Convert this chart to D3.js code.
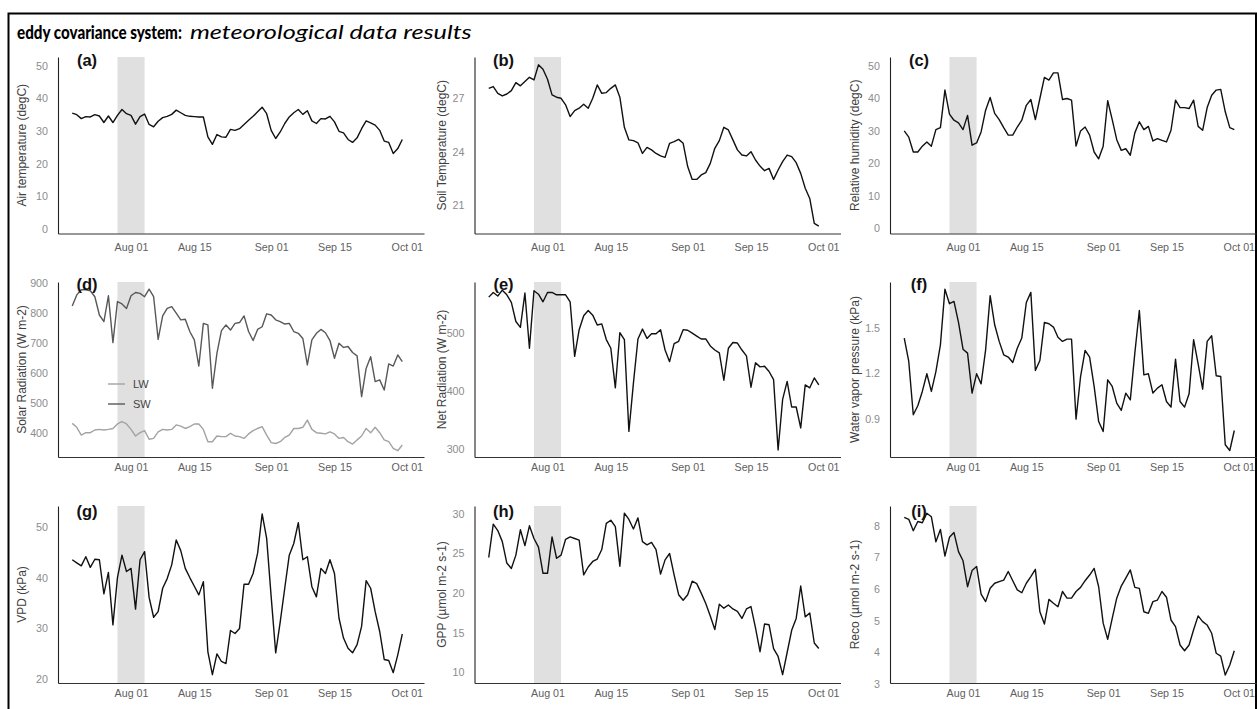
<!DOCTYPE html>
<html><head><meta charset="utf-8">
<script src="https://cdn.jsdelivr.net/npm/d3@7"></script>
<style>body{margin:0;background:#fff}svg{display:block}</style>
</head><body><svg id="c" width="1257" height="709"></svg>
<script>
// ---------- data ----------
const startDate = "2021-07-19T00:00:00Z";
const xDomain = ["2021-07-15T20:24:00Z", "2021-10-04T19:12:00Z"];
const xTickDates = ["2021-08-01T00:00:00Z","2021-08-15T00:00:00Z","2021-09-01T00:00:00Z","2021-09-15T00:00:00Z","2021-10-01T00:00:00Z"];
const xTickLabels = ["Aug 01","Aug 15","Sep 01","Sep 15","Oct 01"];
const shadeRange = ["2021-07-29T00:00:00Z","2021-08-04T00:00:00Z"];

const airTemp = [35.5,35,33.8,34.4,34.3,35,34.6,32.6,34.6,32.6,34.8,36.6,35.3,34.8,32.1,34.4,35.2,32,31.3,33,34.1,34.5,35.1,36.4,35.6,34.8,34.5,34.4,34.3,34.3,28.2,25.9,28.9,28.2,28.1,30.5,30.2,30.7,32,33.3,34.5,35.9,37.3,35.3,30.2,27.7,29.7,32.3,34.3,35.6,36.6,35.1,36.2,33.1,32.3,33.8,33.7,34.5,32.8,29.9,29.4,27.4,26.5,27.9,30.7,33.1,32.5,31.8,30.2,26.9,26.5,23.1,24.6,27.4];
const soilTemp = [27.56,27.66,27.28,27.13,27.24,27.43,27.88,27.7,27.94,28.18,28.03,28.88,28.63,28.07,27.19,27.06,27.0,26.63,25.97,26.31,26.44,26.66,26.44,27.0,27.75,27.28,27.32,27.56,27.75,27.06,25.37,24.66,24.62,24.5,23.9,24.24,24.1,23.9,23.76,23.68,24.47,24.56,24.69,24.47,23.16,22.44,22.44,22.69,22.82,23.34,24.19,24.62,25.37,25.22,24.66,24.1,23.81,23.76,24.0,23.53,23.19,22.93,23.06,22.44,22.97,23.44,23.81,23.72,23.38,22.78,21.94,21.37,19.97,19.82];
const relHumidity = [30,28.1,23.5,23.5,25.3,26.6,25.3,30.4,31,42.6,35.2,33.3,32.5,30.4,34.8,25.6,26.3,29.7,36.4,40.3,35.4,33.5,31,28.7,28.7,31.2,33.3,37.9,39.7,33.5,40,46.5,45.7,47.9,47.9,39.7,40,39.5,25.3,30,31.2,28.7,23.5,21.4,25.3,39.3,33.5,27.3,24,24.5,22.5,29.4,32.8,30.4,31.4,26.9,27.6,27.1,26.6,30.2,39.5,37.2,37.2,36.9,39.5,31.4,30.2,37.2,41,42.6,42.8,35.9,31,30.4];
const swRad = [822,859,876,876,873,853,792,770,856,700,837,829,814,856,867,864,853,878,853,711,789,814,820,798,776,778,737,709,622,764,759,548,664,740,759,742,764,767,789,737,707,744,753,796,792,776,770,762,764,737,731,714,626,709,731,744,733,707,648,698,684,687,667,656,520,614,653,570,576,542,629,622,659,637];
const lwRad = [431,418,392,400,400,409,411,409,411,414,429,437,429,411,389,400,407,378,381,403,411,409,411,426,422,414,420,429,429,411,370,370,389,387,387,398,389,387,381,396,407,414,420,392,367,364,370,384,392,414,414,418,442,411,400,398,396,403,396,381,384,370,362,376,389,414,400,418,400,376,370,348,340,359];
const netRad = [562,570,564,574,566,553,520,510,569,474,573,567,554,570,570,566,566,566,554,460,506,530,539,531,514,516,489,474,406,501,489,331,414,490,507,491,499,499,506,471,451,482,486,506,505,500,495,490,490,478,471,466,419,474,484,483,471,461,407,449,442,443,434,420,299,386,417,373,373,337,411,406,423,411];
const vaporPressure = [1.434,1.279,0.925,0.985,1.08,1.197,1.08,1.212,1.389,1.759,1.662,1.677,1.538,1.36,1.334,1.069,1.197,1.13,1.356,1.715,1.522,1.412,1.323,1.308,1.272,1.367,1.434,1.67,1.737,1.219,1.285,1.538,1.529,1.507,1.44,1.412,1.427,1.427,0.896,1.179,1.352,1.308,1.113,0.88,0.814,1.157,1.113,1.002,0.954,1.069,1.024,1.334,1.617,1.19,1.197,1.069,1.102,1.124,1.013,0.976,1.294,1.013,0.976,1.064,1.423,1.263,1.095,1.412,1.449,1.184,1.179,0.726,0.688,0.821];
const vpd = [43.5,42.9,42.3,44.1,42,43.6,43.5,36.8,41,30.7,40,44.4,41.2,41.8,33.8,43.5,45.1,36.1,32.2,33.3,37.9,39.8,42.5,47.4,45.3,41.8,40,38.3,36.6,39.2,25.4,20.9,25,23.5,23.1,29.6,29,30,38.7,38.7,40.8,44.8,52.5,47.7,36.2,25.2,31.3,37.9,44.4,46.7,50.8,43.5,44.1,38.2,36.2,41.8,40.8,43.5,40.8,32,28.1,26.1,25.2,26.8,30.4,39.4,37.9,33.3,29.4,23.9,23.7,21.3,24.8,28.9];
const gpp = [24.5,28.7,27.9,26.5,23.8,23.1,24.8,28,26,28.5,26.9,25.8,22.5,22.5,27.1,24.4,24.8,26.8,27.1,26.9,26.7,22.3,23.3,24,24.3,25.5,28.8,29.2,28.4,23.4,30.1,29.3,28.1,29.5,26.5,26.1,26.4,25.5,22.4,24.2,25,22.3,19.8,19.1,19.8,21.5,21.2,20,18.7,17.1,15.4,18.6,18.1,18.5,18,17.7,16.8,18,18.3,15.6,12.6,16.1,16,13,12,9.7,12.5,15.3,16.8,20.9,17,17.5,13.7,13];
const reco = [8.26,8.2,7.84,8.13,8.09,8.39,8.28,7.49,7.88,7.04,7.63,7.78,7.18,6.89,6.07,6.58,6.71,5.84,5.6,6.02,6.18,6.23,6.28,6.55,6.26,5.97,5.88,6.18,6.39,6.62,5.28,4.89,5.67,5.55,5.44,5.92,5.71,5.71,5.92,6.05,6.26,6.44,6.65,6.07,4.92,4.41,5.07,5.71,6.09,6.34,6.6,6.05,6.02,5.28,5.23,5.6,5.65,5.92,5.74,5.02,4.81,4.23,4.05,4.23,4.71,5.15,4.97,4.86,4.6,3.97,3.88,3.28,3.6,4.05];

const titleBold = "eddy covariance system:";
const titleItalic = "meteorological data results";
const panelLetters = ["(a)","(b)","(c)","(d)","(e)","(f)","(g)","(h)","(i)"];
const panelTitles = ["Air temperature (degC)","Soil Temperature (degC)","Relative humidity (degC)","Solar Radiation (W m-2)","Net Radiation (W m-2)","Water vapor pressure (kPa)","VPD (kPa)","GPP (\u00b5mol m-2 s-1)","Reco (\u00b5mol m-2 s-1)"];
const yDomains = [[-1.45,52.7],[19.4,29.32],[-1.64,52.8],[319,902],[287,588],[0.645,1.806],[19.27,54.07],[8.65,31.0],[3.03,8.62]];
const yTicks = [[0,10,20,30,40,50],[21,24,27],[0,10,20,30,40,50],[400,500,600,700,800,900],[300,400,500],[0.9,1.2,1.5],[20,30,40,50],[10,15,20,25,30],[3,4,5,6,7,8]];
const legendLabels = ["LW","SW"];

// ---------- layout ----------
const colX = [58, 474.5, 890];
const colTitleX = [22, 441.5, 854.5];
const rows = [[57,233.5],[282,457],[506,683]];
const xLabelBase = [251, 471, 697];
const letterBase = [66, 290, 517];
const plotW = 366;

const svg = d3.select("#c");
svg.append("rect").attr("x",8.5).attr("y",13.5).attr("width",1247.5).attr("height",720)
  .attr("fill","none").attr("stroke","#000").attr("stroke-width",2);

// title: each part horizontally scaled to its measured width
function fitText(str, x, w, attrs) {
  const t = svg.append("text").attr("x", 0).attr("y", 0)
    .attr("font-family","Lato, 'Open Sans', sans-serif").attr("fill","#000").text(str);
  Object.entries(attrs).forEach(([k, v]) => t.attr(k, v));
  const len = t.node().getComputedTextLength();
  t.attr("transform", `translate(${x},39) scale(${w / len},1)`);
}
fitText(titleBold, 17, 165, {"font-weight": 900, "font-size": 19});
fitText(titleItalic, 190, 282, {"font-style": "italic", "font-size": 20});

const parse = s => new Date(s);
const dates = airTemp.map((_,i) => d3.utcDay.offset(parse(startDate), i));
const seriesList = [[airTemp],[soilTemp],[relHumidity],[lwRad, swRad],[netRad],[vaporPressure],[vpd],[gpp],[reco]];
const fmt = [d3.format("d"),d3.format("d"),d3.format("d"),d3.format("d"),d3.format("d"),d3.format(".1f"),d3.format("d"),d3.format("d"),d3.format("d")];

const FONT = "'Liberation Sans', Arial, sans-serif";

for (let p = 0; p < 9; p++) {
  const c = p % 3, r = Math.floor(p / 3);
  const x0 = colX[c], [top, bot] = rows[r];
  const x = d3.scaleUtc().domain(xDomain.map(parse)).range([x0, x0 + plotW]);
  const y = d3.scaleLinear().domain(yDomains[p]).range([bot, top]);
  const g = svg.append("g");

  g.append("rect").attr("x", x(parse(shadeRange[0]))).attr("y", top)
    .attr("width", x(parse(shadeRange[1])) - x(parse(shadeRange[0]))).attr("height", bot - top)
    .attr("fill", "#e0e0e0");

  const xa = g.append("g").attr("transform", `translate(0,${bot})`)
    .call(d3.axisBottom(x).tickValues(xTickDates.map(parse)).tickFormat((d,i) => xTickLabels[i]).tickSize(0).tickPadding(0));
  xa.select(".domain").attr("stroke","#333").attr("stroke-width",1.1);
  xa.selectAll("text").attr("y", xLabelBase[r] - bot).attr("dy", 0)
    .attr("font-family", FONT).attr("font-size", 10.7).attr("fill", "#606060");

  const ya = g.append("g").attr("transform", `translate(${x0},0)`)
    .call(d3.axisLeft(y).tickValues(yTicks[p]).tickFormat(fmt[p]).tickSize(0).tickPadding(10));
  ya.select(".domain").attr("stroke","#222").attr("stroke-width",1.1);
  ya.selectAll("text").attr("font-family", FONT).attr("font-size", 10.7).attr("fill", "#8c8c8c");

  g.append("text").attr("transform", `translate(${colTitleX[c]},${(top+bot)/2}) rotate(-90)`)
    .attr("text-anchor","middle").attr("dominant-baseline","central")
    .attr("font-family", FONT).attr("font-size", 12).attr("fill", "#404040").text(panelTitles[p]);

  const line = d3.line().x((d,i) => x(dates[i])).y(d => y(d));
  const ser = seriesList[p];
  const colors = ser.length === 2 ? ["#a3a3a3", "#585858"] : ["#111"];
  ser.forEach((s, k) => {
    g.append("path").datum(s).attr("d", line).attr("fill","none")
      .attr("stroke", colors[k]).attr("stroke-width", 1.4).attr("stroke-linejoin","round");
  });

  g.append("text").attr("x", x0 + 29).attr("y", letterBase[r]).attr("text-anchor","middle")
    .attr("font-family", FONT).attr("font-weight","bold").attr("font-size", 16.5).attr("fill","#111")
    .text(panelLetters[p]);

  if (ser.length === 2) {
    const ly = [384, 404];
    legendLabels.forEach((lab, k) => {
      g.append("line").attr("x1", x0 + 50).attr("x2", x0 + 67).attr("y1", ly[k]).attr("y2", ly[k])
        .attr("stroke", colors[k]).attr("stroke-width", 1.4);
      g.append("text").attr("x", x0 + 75).attr("y", ly[k]).attr("dominant-baseline","central")
        .attr("font-family", FONT).attr("font-size", 11).attr("fill", "#444").text(lab);
    });
  }
}
</script></body></html>
